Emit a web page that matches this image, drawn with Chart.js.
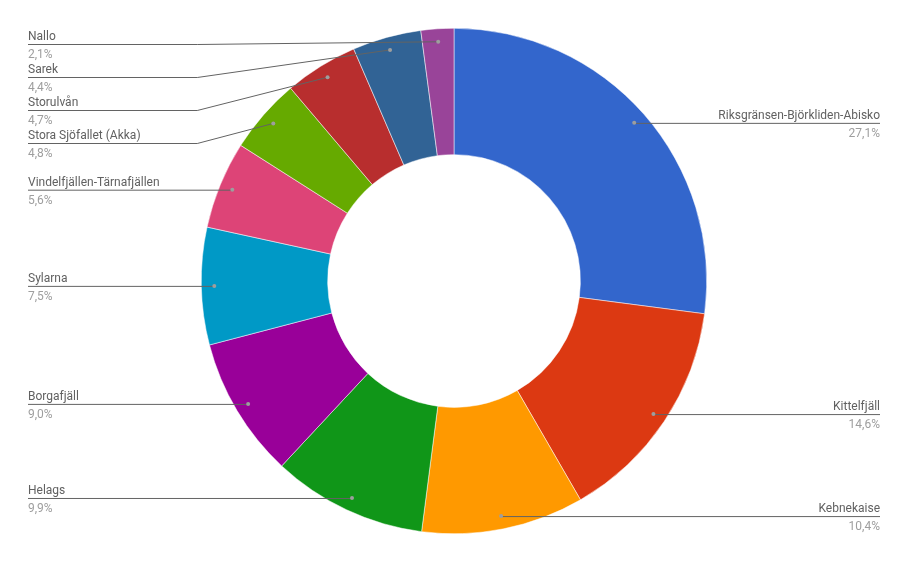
<!DOCTYPE html>
<html><head><meta charset="utf-8">
<script src="https://cdn.jsdelivr.net/npm/chart.js@4/dist/chart.umd.min.js"></script>
<style>html,body{margin:0;padding:0;background:#fff}#wrap{width:908px;height:562px}</style>
</head><body><div id="wrap"><canvas id="c"></canvas></div>
<script>
const categories = ["Riksgränsen-Björkliden-Abisko","Kittelfjäll","Kebnekaise","Helags","Borgafjäll","Sylarna","Vindelfjällen-Tärnafjällen","Stora Sjöfallet (Akka)","Storulvån","Sarek","Nallo"];
const values = [27.1,14.6,10.4,9.9,9.0,7.5,5.6,4.8,4.7,4.4,2.1];
const colors = ["#3366cc","#dc3912","#ff9900","#109618","#990099","#0099c6","#dd4477","#66aa00","#b82e2e","#316395","#994499"];

const labelPlugin = {
  id:'leaders',
  afterDraw(chart){
    const ctx = chart.ctx;
    const meta = chart.getDatasetMeta(0);
    const total = values.reduce((a,b)=>a+b,0);
    const items = meta.data.map((arc,i)=>{
      const p = arc.getProps(['x','y','startAngle','endAngle','outerRadius','innerRadius'],true);
      const mid = (p.startAngle+p.endAngle)/2;
      const r = p.outerRadius - 13;
      return {i, cx:p.x, cy:p.y, R:p.outerRadius, dx:p.x+Math.cos(mid)*r, dy:p.y+Math.sin(mid)*r};
    });
    const left = items.filter(o=>o.dx<o.cx).sort((a,b)=>a.dy-b.dy);
    const right = items.filter(o=>o.dx>=o.cx).sort((a,b)=>a.dy-b.dy);
    const W = chart.width;
    function place(list){
      let prev = -Infinity;
      list.forEach(o=>{ let y = Math.max(o.dy, 44, prev+33); o.ly = y; prev = y; });
    }
    place(left); place(right);
    ctx.save();
    ctx.font = '12px Roboto';
    const draw = (o, side)=>{
      const edgeX = side<0 ? 28 : W-28;
      const elbowX = side<0 ? o.cx - o.R - 4 : o.cx + o.R + 4;
      ctx.strokeStyle = '#636363'; ctx.lineWidth = 1;
      ctx.beginPath();
      ctx.moveTo(edgeX, o.ly+0.5);
      if (Math.abs(o.ly - o.dy) < 0.5) {
        ctx.lineTo(o.dx, o.ly+0.5);
      } else {
        ctx.lineTo(elbowX, o.ly+0.5);
        ctx.lineTo(o.dx, o.dy);
      }
      ctx.stroke();
      ctx.fillStyle = '#9e9e9e';
      ctx.beginPath(); ctx.arc(o.dx, o.dy, 2, 0, Math.PI*2); ctx.fill();
      ctx.textAlign = side<0 ? 'left' : 'right';
      ctx.textBaseline = 'alphabetic';
      ctx.fillStyle = '#616161';
      ctx.fillText(categories[o.i], edgeX, o.ly-4);
      ctx.fillStyle = '#9e9e9e';
      ctx.fillText(values[o.i].toFixed(1).replace('.',',')+'%', edgeX, o.ly+14);
    };
    left.forEach(o=>draw(o,-1));
    right.forEach(o=>draw(o,1));
    ctx.restore();
  }
};

new Chart(document.getElementById('c'), {
  type:'doughnut',
  data:{labels:categories, datasets:[{data:values, backgroundColor:colors, borderColor:'#ffffff', borderWidth:0.5}]},
  options:{
    responsive:true, maintainAspectRatio:false, animation:false,
    cutout:'50%',
    layout:{padding:{top:28,bottom:28}},
    plugins:{legend:{display:false}, tooltip:{enabled:false}}
  },
  plugins:[labelPlugin]
});
</script></body></html>
